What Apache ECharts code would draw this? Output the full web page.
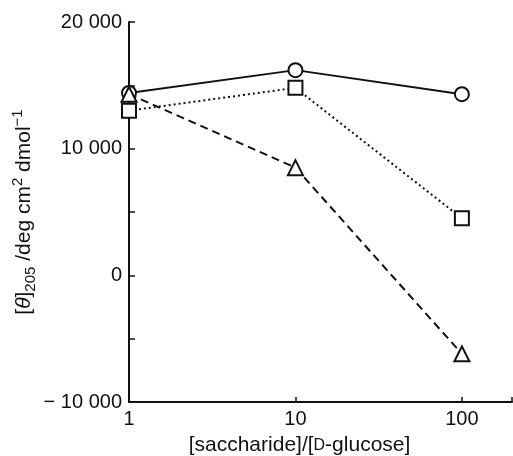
<!DOCTYPE html>
<html lang="en">
  <head>
    <meta charset="UTF-8" />
    <title>theta 205 vs saccharide ratio</title>
    <script src="https://cdn.jsdelivr.net/npm/echarts@6/dist/echarts.min.js"></script>
    <style>
      html, body { margin: 0; padding: 0; background: #fff; }
      #main { width: 513px; height: 456px; }
    </style>
  </head>
  <body>
    <div id="main"></div>
    <script>
      // x values: [saccharide]/[D-glucose]
      var ratios = [1, 10, 100];
      // [theta]205 values, one array per curve
      var circles = [14400, 16200, 14300];
      var squares = [13000, 14800, 4500];
      var triangles = [14300, 8500, -6200];
      var yTicks = [-10000, 0, 10000, 20000];

      function pairs(ys) {
        return ratios.map(function (x, i) { return [x, ys[i]]; });
      }

      function fmtY(v) {
        if (yTicks.indexOf(v) < 0) return '';
        var s = Math.abs(v).toString().replace(/\B(?=(\d{3})+(?!\d))/g, ' ');
        return v < 0 ? '\u2212 ' + s : s;
      }

      var font = 'Liberation Sans, Arial, sans-serif';
      var chart = echarts.init(document.getElementById('main'));

      function line(name, data, symbol, type) {
        return {
          name: name,
          type: 'line',
          data: pairs(data),
          symbol: symbol,
          symbolSize: symbol === 'triangle' ? 15 : 14,
          showAllSymbol: true,
          z: 3,
          lineStyle: { color: '#111', width: 2, type: type },
          itemStyle: { color: '#fff', borderColor: '#111', borderWidth: 2 }
        };
      }

      chart.setOption({
        animation: false,
        grid: { left: 129, right: 1, top: 22, bottom: 54, containLabel: false, outerBoundsMode: 'none' },
        xAxis: {
          type: 'log',
          min: 1,
          max: 200,
          logBase: 10,
          axisLine: { onZero: false, lineStyle: { color: '#111', width: 2 } },
          axisTick: { inside: true, length: 5, lineStyle: { color: '#111', width: 1.5 } },
          splitLine: { show: false },
          axisLabel: {
            margin: 7,
            color: '#111',
            fontSize: 20,
            fontFamily: font,
            formatter: function (v) { return ratios.indexOf(v) >= 0 ? String(v) : ''; }
          },
          name: '[saccharide]/[{sc|D}-glucose]',
          nameLocation: 'middle',
          nameGap: 33,
          nameMoveOverlap: false,
          nameTextStyle: {
            color: '#111',
            fontSize: 21,
            fontFamily: font,
            padding: [0, 42, 0, 0],
            rich: { sc: { fontSize: 16, fontFamily: font, color: '#111' } }
          }
        },
        yAxis: {
          type: 'value',
          min: -10000,
          max: 20000,
          interval: 5000,
          axisLine: { show: true, onZero: false, lineStyle: { color: '#111', width: 2 } },
          axisTick: { show: true, inside: true, length: 6, lineStyle: { color: '#111', width: 1.5 } },
          splitLine: { show: false },
          axisLabel: {
            margin: 7,
            color: '#111',
            fontSize: 20,
            fontFamily: font,
            formatter: fmtY
          },
          name: '{a|[}{i|\u03b8}{a|]}{sub|205}{a| /deg cm}{sup|2}{a| dmol}{sup|\u22121}',
          nameLocation: 'middle',
          nameGap: 91,
          nameMoveOverlap: false,
          nameTextStyle: {
            rich: {
              a: { fontSize: 21, fontFamily: font, color: '#111', lineHeight: 28, verticalAlign: 'middle' },
              i: { fontSize: 21, fontFamily: font, fontStyle: 'italic', color: '#111', lineHeight: 28, verticalAlign: 'middle' },
              sub: { fontSize: 15, fontFamily: font, color: '#111', lineHeight: 28, verticalAlign: 'bottom' },
              sup: { fontSize: 15, fontFamily: font, color: '#111', lineHeight: 28, verticalAlign: 'top' }
            }
          }
        },
        series: [
          line('circle', circles, 'circle', 'solid'),
          line('square', squares, 'rect', [2, 3]),
          line('triangle', triangles, 'triangle', [8, 5])
        ]
      });
    </script>
  </body>
</html>
